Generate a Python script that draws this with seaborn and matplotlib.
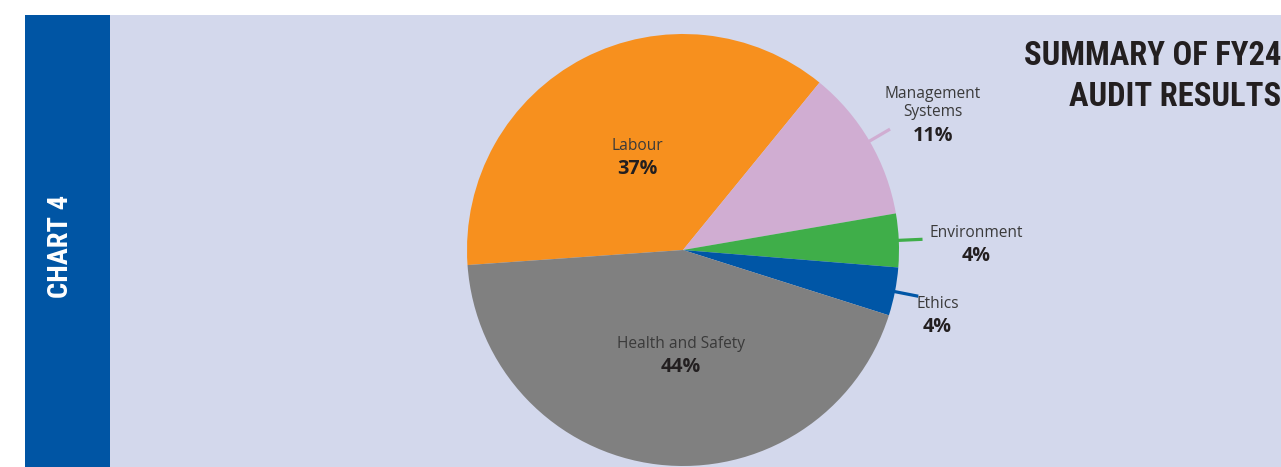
import matplotlib
matplotlib.use("Agg")
import matplotlib.pyplot as plt
import seaborn as sns
import numpy as np
from matplotlib.patches import Rectangle

# ---- data ----
categories = ["Labour", "Management\nSystems", "Environment", "Ethics", "Health and Safety"]
shares = [37, 11.4, 4, 3.6, 44]
colors = ["#F7901E", "#D0ADD2", "#3FAE49", "#0056A6", "#808080"]
title = "SUMMARY OF FY24\nAUDIT RESULTS"
side_label = "CHART 4"

# label layout: (x, y) anchor in pie-radius units, and whether a leader line is drawn
label_anchor = [(-0.213, 0.431), (1.157, 0.583), (1.356, 0.030), (1.178, -0.299), (-0.009, -0.484)]
label_leader = [False, True, True, True, False]

sns.set_theme(style="white")
plt.rcParams['font.family'] = ['Open Sans', 'DejaVu Sans']
display_font = ['Roboto Condensed', 'Lato', 'DejaVu Sans']

W, H = 1281, 467
fig = plt.figure(figsize=(W / 100, H / 100), dpi=100)
fig.patch.set_facecolor("white")
fig.add_artist(Rectangle((110 / W, 0), 1 - 110 / W, (H - 15) / H, transform=fig.transFigure,
                         facecolor="#D3D8EC", edgecolor="none", zorder=-2))
fig.add_artist(Rectangle((25 / W, 0), 85 / W, (H - 15) / H, transform=fig.transFigure,
                         facecolor="#0055A4", edgecolor="none", zorder=-1))

cx, cy, R = 683, 250, 216
ax = fig.add_axes([(cx - R) / W, (H - cy - R) / H, 2 * R / W, 2 * R / H])
ax.set_facecolor("none")
palette = sns.color_palette(colors)
wedges, _ = ax.pie(shares, colors=palette, startangle=184, counterclock=False,
                   radius=1, wedgeprops=dict(linewidth=0))
ax.set_xlim(-1, 1)
ax.set_ylim(-1, 1)
ax.axis("off")

name_color = "#3A3A3A"
pct_color = "#231F20"
for w, name, val, (x, y), leader, col in zip(wedges, categories, shares, label_anchor,
                                              label_leader, palette):
    mid = np.deg2rad((w.theta1 + w.theta2) / 2)
    if leader:
        ax.plot([np.cos(mid) * 0.99, np.cos(mid) * 1.11], [np.sin(mid) * 0.99, np.sin(mid) * 1.11],
                color=col, lw=2.3, solid_capstyle="butt", clip_on=False)
    nlines = name.count("\n") + 1
    ax.annotate(name, (x, y), xytext=(0, 11 + 10 * (nlines - 1)), textcoords="offset pixels",
                ha="center", va="center", fontsize=11.2, color=name_color,
                linespacing=1.12, annotation_clip=False)
    ax.annotate(f"{val:.0f}%", (x, y), xytext=(0, -12), textcoords="offset pixels",
                ha="center", va="center", fontsize=14.2, fontweight="bold", color=pct_color,
                annotation_clip=False)

fig.text(61 / W, 1 - 246 / H, side_label, rotation=90, color="white", fontsize=20.5,
         fontweight="heavy", family=display_font, ha="center", va="center")
fig.text(1.0, 1 - 40 / H, title, ha="right", va="top", fontsize=23.5, fontweight="heavy",
         family=display_font, color="#231F20", linespacing=1.38)

fig.savefig("out.png", dpi=100)
